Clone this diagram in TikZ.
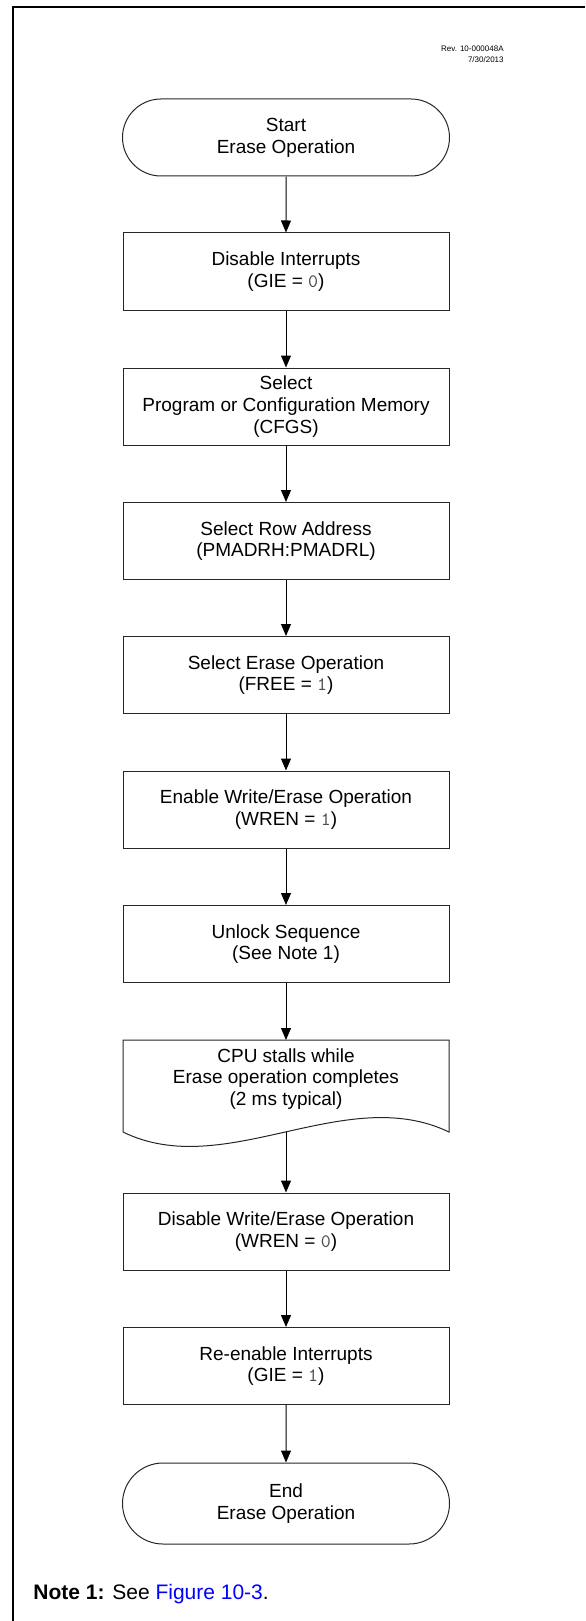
\documentclass[tikz,border=0pt]{standalone}
\usepackage{fontspec}
\setmainfont{Liberation Sans}
\usetikzlibrary{shapes.misc, arrows.meta}

\newcommand{\regval}[1]{{\ttfamily\color{black!70}#1}}

\tikzset{
  stepbox/.style={draw=black!85, line width=0.5pt, minimum width=163pt,
    minimum height=38.5pt, align=center, inner sep=0pt,
    font=\fontsize{9.5}{10.9}\selectfont},
  termbox/.style={stepbox, rounded rectangle, minimum width=163.5pt},
  flow/.style={line width=0.5pt, -{Triangle[length=6pt,width=5pt]}}
}

\begin{document}
\begin{tikzpicture}[x=0.5pt, y=-0.5pt]
    \useasboundingbox (0,0) rectangle (585,1621);
    % Page frame
    \draw[line width=1pt] (12.7,1621) -- (12.7,6.7) -- (585,6.7);
    % Revision stamp
    \node[anchor=east, align=right, inner sep=0pt, font=\fontsize{4}{5.5}\selectfont] (rev) at (504,54.5) {Rev. 10-000048A\\7/30/2013};
    % Start
    \node[termbox] (start) at (286,137.5) {Start\\Erase Operation};
    % Steps
    \node[stepbox] (dis) at (286,271.5) {Disable Interrupts\\(GIE = \regval{0})};
    \node[stepbox] (sel) at (286,406.5) {Select\\Program or Configuration Memory\\(CFGS)};
    \node[stepbox] (row) at (286,541) {Select Row Address\\(PMADRH:PMADRL)};
    \node[stepbox] (ers) at (286,675) {Select Erase Operation\\(FREE = \regval{1})};
    \node[stepbox] (wen) at (286,809.5) {Enable Write/Erase Operation\\(WREN = \regval{1})};
    \node[stepbox] (unl) at (286,944) {Unlock Sequence\\(See Note 1)};
    % Stall (document shape)
    \draw[draw=black!85, line width=0.5pt] (123,1132) -- (123,1040) -- (449,1040) -- (449,1132)
        .. controls (345,1082) and (225,1182) .. (123,1132);
    \node[stepbox, draw=none] (cpu) at (286,1079) {CPU stalls while\\Erase operation completes\\(2 ms typical)};
    \coordinate (cpuin) at (286,1040);
    \coordinate (cpuout) at (286,1132);
    \node[stepbox] (wdis) at (286,1231.5) {Disable Write/Erase Operation\\(WREN = \regval{0})};
    \node[stepbox] (gie) at (286,1366) {Re-enable Interrupts\\(GIE = \regval{1})};
    % End
    \node[termbox, minimum height=40.5pt] (stop) at (286,1503.5) {End\\Erase Operation};
    % Arrows
    \foreach \a/\b in {start/dis, dis/sel, sel/row, row/ers, ers/wen, wen/unl, unl/cpuin, cpuout/wdis, wdis/gie, gie/stop}
        \draw[flow] (\a) -- (\b);
    % Note
    \node[anchor=base west, inner sep=0pt, font=\fontsize{10.5}{12}\selectfont] (note) at (33,1599) {\textbf{Note 1:} See \textcolor{blue}{Figure 10-3}.};
\end{tikzpicture}
\end{document}
